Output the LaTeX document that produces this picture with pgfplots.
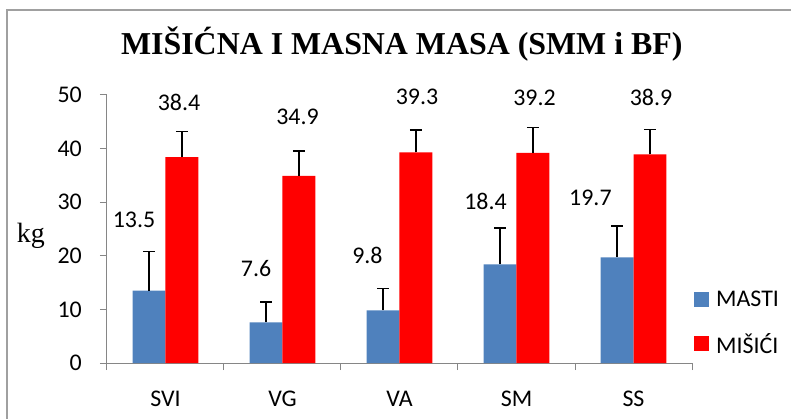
\documentclass[border=0pt]{standalone}
\usepackage{pgfplots}
\pgfplotsset{compat=1.18}
\usepackage{fontspec}
\setmainfont{Carlito}
\newfontfamily\serifttl{Liberation Serif}
\definecolor{mblue}{HTML}{4F81BD}
\definecolor{mred}{HTML}{FF0000}
\definecolor{axgray}{HTML}{868686}
\definecolor{framegray}{HTML}{A0A0A0}

\begin{document}
\begin{tikzpicture}
\path[use as bounding box] (-107bp,-56bp) rectangle (684bp,363bp);
\draw[line width=1.5bp, framegray] (-100bp,-70bp) -- (-100bp,353bp) -- (700bp,353bp);
\begin{axis}[
  at={(0,0)}, anchor=south west,
  scale only axis, width=585bp, height=268bp,
  clip=false,
  ybar=0pt, bar width=0.28,
  xmin=-0.5, xmax=4.5, ymin=0, ymax=50,
  ytick={0,10,...,50},
  xtick={0,1,2,3,4},
  xticklabels={SVI,VG,VA,SM,SS},
  minor xtick={-0.5,0.5,...,4.5},
  major x tick style={draw=none},
  minor x tick style={axgray, line width=1bp},
  y tick style={axgray, line width=1bp},
  tick align=outside,
  major tick length=7bp, minor tick length=7bp,
  axis x line*=bottom, axis y line*=left,
  axis line style={axgray, line width=1bp},
  /pgf/number format/assume math mode=true,
  font=\fontsize{24}{28}\selectfont,
  tick label style={font=\fontsize{24}{28}\selectfont},
  xticklabel style={anchor=base, yshift=-36bp},
  yticklabel style={anchor=east, inner sep=0pt, xshift=-18bp},
  title={\serifttl\bfseries MIŠIĆNA I MASNA MASA (SMM i BF)},
  title style={font=\fontsize{32}{36}\selectfont, at={(axis description cs:0.504,1.168)}, anchor=center},
  ylabel={\serifttl kg},
  ylabel style={font=\fontsize{28}{32}\selectfont, rotate=-90, at={(axis description cs:-0.13,0.474)}, anchor=center},
  legend style={draw=none, fill=none, at={(axis description cs:1.0034,0.276)}, anchor=north west,
    inner sep=0pt, row sep=21bp, column sep=5bp, font=\fontsize{24}{28}\selectfont},
  legend cell align=left,
  legend image code/.code={\fill[#1] (0bp,-7.5bp) rectangle (15bp,7.5bp);},
  error bars/y dir=plus, error bars/y explicit,
  error bars/error mark=|,
  error bars/error bar style={black, line width=1.5bp},
  error bars/error mark options={black, line width=1.5bp, mark size=6bp},
]
\addplot[fill=mblue, draw=none, bar shift=-0.14] coordinates {
  (0,13.5) +- (0,7.3) (1,7.6) +- (0,3.8) (2,9.8) +- (0,4.1) (3,18.4) +- (0,6.8) (4,19.7) +- (0,5.9)};
\addplot[fill=mred, draw=none, bar shift=0.14] coordinates {
  (0,38.4) +- (0,4.8) (1,34.9) +- (0,4.65) (2,39.3) +- (0,4.2) (3,39.2) +- (0,4.7) (4,38.9) +- (0,4.7)};
\legend{MASTI, MIŠIĆI}
\node at (axis cs:-0.269,26.7) {13.5};
\node at (axis cs:0.774,17.7) {7.6};
\node at (axis cs:1.726,20.1) {9.8};
\node at (axis cs:2.735,30.1) {18.4};
\node at (axis cs:3.632,30.8) {19.7};
\node at (axis cs:0.115,48.7) {38.4};
\node at (axis cs:1.128,46.0) {34.9};
\node at (axis cs:2.150,49.7) {39.3};
\node at (axis cs:3.154,49.4) {39.2};
\node at (axis cs:4.150,49.6) {38.9};
\end{axis}
\end{tikzpicture}
\end{document}
